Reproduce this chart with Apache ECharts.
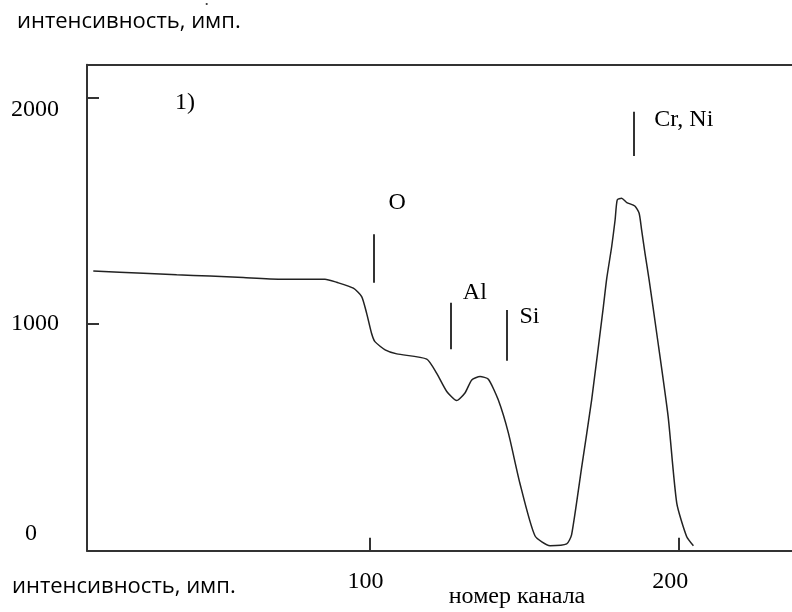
<!DOCTYPE html>
<html>
<head>
<meta charset="utf-8">
<script src="https://cdn.jsdelivr.net/npm/echarts@6/dist/echarts.min.js"></script>
<style>
  html, body { margin: 0; padding: 0; background: #fff; }
  #chart { width: 792px; height: 612px; }
</style>
</head>
<body>
<div id="chart"></div>
<script>
// спектр: номер канала / интенсивность
const channel = [10.25, 26.5, 37.3, 48.1, 58.9, 70.8, 85.4, 89.2, 94.6, 97.3, 98.9, 100.5, 101.6, 104.9, 108.7,
  118.4, 121.6, 124.9, 128.1, 130.8, 133.0, 135.7, 138.4, 141.6, 144.9, 148.6, 153.5, 158.4, 163.8, 165.4,
  168.7, 171.9, 175.7, 176.8, 178.4, 179.5, 180.2, 181.6, 183.3, 185.9, 187.3, 188.1, 189.2, 190.5, 193.0,
  196.7, 199.5, 202.7, 204.9];
const intensity = [1235, 1225, 1218, 1213, 1206, 1199, 1199, 1185, 1159, 1122, 1049, 960, 923, 887, 869,
  846, 784, 703, 663, 696, 754, 769, 757, 666, 519, 299, 66, 22, 30, 71,
  372, 666, 1078, 1203, 1343, 1460, 1549, 1556, 1537, 1522, 1490, 1416, 1313, 1199, 960,
  593, 210, 63, 22];

// метки элементов: положение риски и подписи (в единицах осей)
const peakNames = ['O', 'Al', 'Si', 'Cr, Ni'];
const peakX = [101.3, 126.2, 144.5, 185.6];
const peakTop = [1397, 1095, 1063, 1938];
const peakBottom = [1183, 889, 839, 1743];
const peakLabelX = [108.8, 134.0, 151.7, 201.8];
const peakLabelY = [1535, 1137, 1031, 1905];

const xTicks = [100, 200];
const yTicks = [1000, 2000];
const yLabels = [0, 1000, 2000];

const serif = '"Liberation Serif", "Times New Roman", serif';
const sans = '"Open Sans", "Liberation Sans", sans-serif';
const ink = '#000';

const chart = echarts.init(document.getElementById('chart'));

const lineData = channel.map((c, i) => [c, intensity[i]]);
const markData = peakX.map((x, i) => [{ coord: [x, peakTop[i]] }, { coord: [x, peakBottom[i]] }]);
const labelData = peakNames.map((n, i) => ({ name: n, value: [peakLabelX[i], peakLabelY[i]] }));

const option = {
  animation: false,
  grid: { left: 87, right: 0, top: 64.7, bottom: 61.3, outerBoundsMode: 'none' },
  xAxis: [
    {
      type: 'value',
      min: 8.21,
      max: 236.88,
      position: 'bottom',
      splitLine: { show: false },
      axisLine: { show: true, lineStyle: { color: '#333', width: 2 } },
      axisTick: { show: true, inside: true, length: 13, customValues: xTicks, lineStyle: { color: '#333', width: 2 } },
      axisLabel: {
        customValues: xTicks,
        margin: 19,
        color: ink,
        fontFamily: serif,
        fontSize: 24,
        formatter: v => '{x' + v + '|' + v + '}',
        rich: {
          x100: { fontFamily: serif, fontSize: 24, color: ink, padding: [0, 9, 0, 0] },
          x200: { fontFamily: serif, fontSize: 24, color: ink, padding: [0, 16, 0, 0] }
        }
      }
    },
    {
      // верхняя рамка
      type: 'value',
      min: 8.21,
      max: 236.88,
      position: 'top',
      splitLine: { show: false },
      axisLine: { show: true, lineStyle: { color: '#333', width: 2 } },
      axisTick: { show: false },
      axisLabel: { show: false }
    }
  ],
  yAxis: {
    type: 'value',
    min: 0,
    max: 2145.7,
    splitLine: { show: false },
    axisLine: { show: true, lineStyle: { color: '#333', width: 2 } },
    axisTick: { show: true, inside: true, length: 12, customValues: yTicks, lineStyle: { color: '#333', width: 2 } },
    axisLabel: {
      customValues: yLabels,
      margin: 52,
      align: 'center',
      color: ink,
      fontFamily: serif,
      fontSize: 24,
      formatter: v => '{y' + v + '|' + v + '}',
      rich: {
        y0: { fontFamily: serif, fontSize: 24, color: ink, padding: [0, 8, 34, 0] },
        y1000: { fontFamily: serif, fontSize: 24, color: ink },
        y2000: { fontFamily: serif, fontSize: 24, color: ink, padding: [24, 0, 0, 0] }
      }
    }
  },
  series: [
    {
      type: 'line',
      data: lineData,
      showSymbol: false,
      smooth: 0.2,
      lineStyle: { color: '#222', width: 1.5 },
      markLine: {
        silent: true,
        symbol: 'none',
        label: { show: false },
        lineStyle: { color: '#333', width: 2, type: 'solid' },
        data: markData
      }
    },
    {
      type: 'scatter',
      data: labelData,
      symbolSize: 0,
      silent: true,
      itemStyle: { opacity: 1 },
      label: {
        show: true,
        position: 'inside',
        formatter: p => p.name,
        color: ink,
        opacity: 1,
        textBorderWidth: 0,
        textBorderColor: 'transparent',
        fontFamily: serif,
        fontSize: 24
      }
    }
  ],
  graphic: [
    { type: 'text', style: { text: 'интенсивность, имп.', x: 17, y: 22, textVerticalAlign: 'middle', font: '22px ' + sans, fill: ink } },
    { type: 'circle', shape: { cx: 206.7, cy: 4, r: 1.1 }, style: { fill: '#333' } },
    { type: 'text', style: { text: '1)', x: 175, y: 103, textVerticalAlign: 'middle', font: '24px ' + serif, fill: ink } },
    { type: 'text', style: { text: 'интенсивность, имп.', x: 12, y: 587, textVerticalAlign: 'middle', font: '22px ' + sans, fill: ink } },
    { type: 'text', style: { text: 'номер канала', x: 517, y: 597, textAlign: 'center', textVerticalAlign: 'middle', font: '24px ' + serif, fill: ink } }
  ]
};

chart.setOption(option);
</script>
</body>
</html>
